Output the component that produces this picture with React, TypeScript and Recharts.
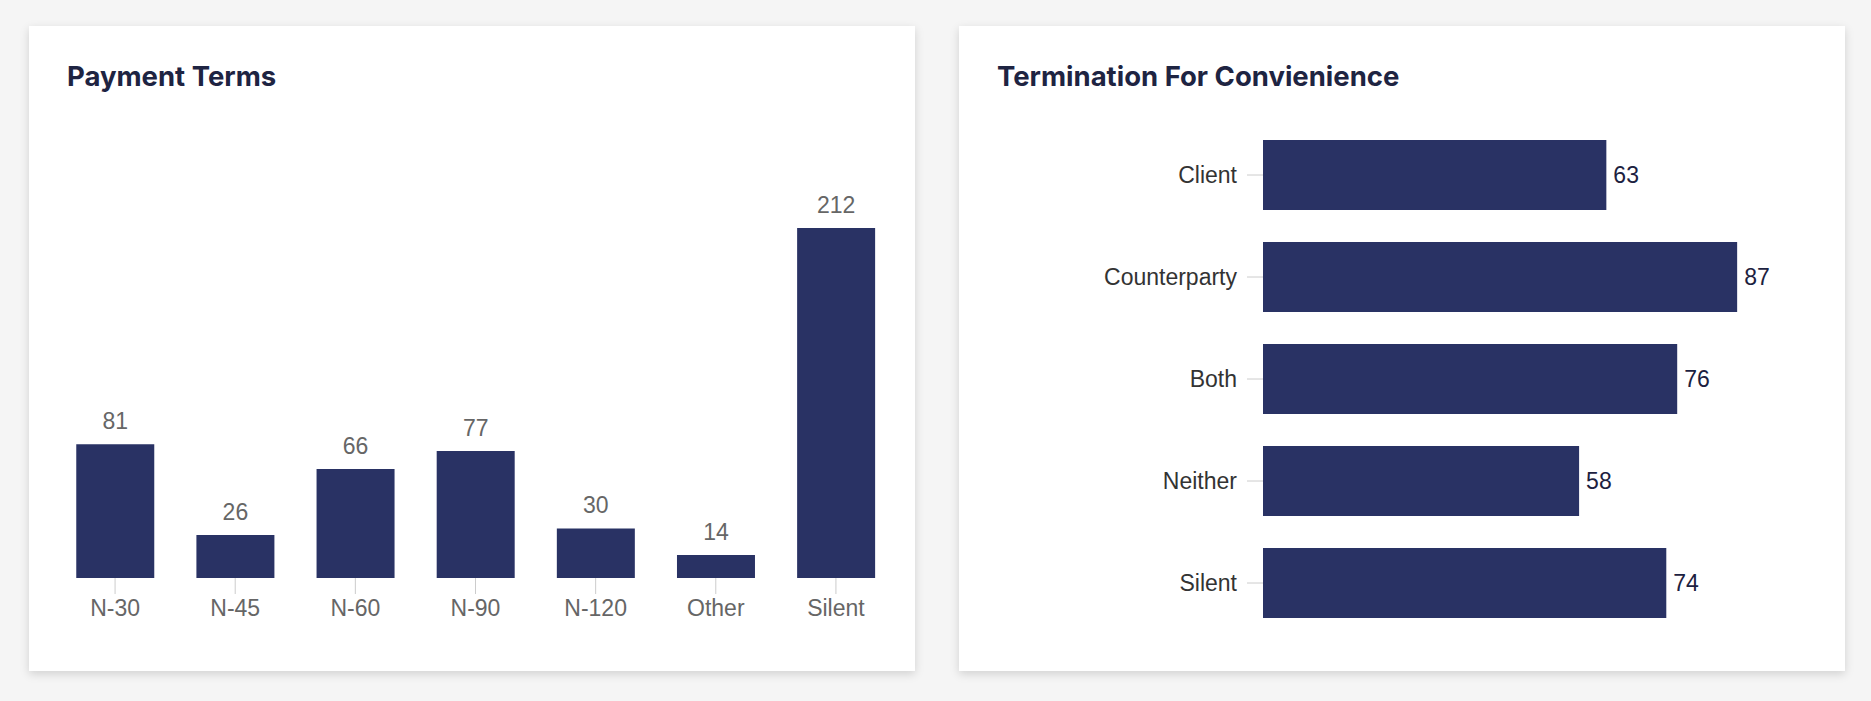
import React from "react";
import { BarChart, Bar, XAxis, YAxis, LabelList } from "recharts";

const paymentCategories = ["N-30", "N-45", "N-60", "N-90", "N-120", "Other", "Silent"];
const paymentValues = [81, 26, 66, 77, 30, 14, 212];

const terminationCategories = ["Client", "Counterparty", "Both", "Neither", "Silent"];
const terminationValues = [63, 87, 76, 58, 74];

const paymentData = paymentCategories.map((name, i) => ({ name, value: paymentValues[i] }));
const terminationData = terminationCategories.map((name, i) => ({ name, value: terminationValues[i] }));

const BAR = "#293264";
const FONT = "'Liberation Sans', Arial, Helvetica, sans-serif";

const cardStyle: React.CSSProperties = {
  position: "absolute",
  top: 26,
  width: 886,
  height: 645,
  background: "#ffffff",
  boxShadow: "0 3px 9px rgba(0,0,0,0.15)",
};

const titleStyle: React.CSSProperties = {
  position: "absolute",
  left: 38,
  top: 37,
  fontFamily: "Inter, 'Noto Sans', sans-serif",
  fontWeight: 700,
  fontSize: 27.5,
  lineHeight: "27px",
  letterSpacing: 0,
  color: "#1e2442",
  whiteSpace: "nowrap",
};

export default function App() {
  return (
    <div
      style={{
        position: "fixed",
        left: 0,
        top: 0,
        width: 1871,
        height: 701,
        background: "#f5f5f5",
        overflow: "hidden",
      }}
    >
      <div style={{ ...cardStyle, left: 29 }}>
        <div style={titleStyle}>Payment Terms</div>
        <div style={{ position: "absolute", left: 0, top: 0 }}>
          <BarChart
            width={886}
            height={645}
            data={paymentData}
            margin={{ top: 202, right: 19, bottom: 33, left: 26 }}
            barCategoryGap="17.7%"
          >
            <XAxis
              dataKey="name"
              axisLine={false}
              tickLine={{ stroke: "#cccccc" }}
              tickSize={16}
              tickMargin={6}
              height={60}
              interval={0}
              tick={{ fill: "#666666", fontSize: 23, fontFamily: FONT }}
            />
            <YAxis hide domain={[0, "dataMax"]} />
            <Bar dataKey="value" fill={BAR} isAnimationActive={false}>
              <LabelList
                dataKey="value"
                position="top"
                offset={15}
                fill="#666666"
                style={{ fontSize: 23, fontFamily: FONT }}
              />
            </Bar>
          </BarChart>
        </div>
      </div>

      <div style={{ ...cardStyle, left: 959 }}>
        <div style={titleStyle}>Termination For Convienience</div>
        <div style={{ position: "absolute", left: 0, top: 0 }}>
          <BarChart
            width={886}
            height={645}
            data={terminationData}
            layout="vertical"
            margin={{ top: 98, right: 37, bottom: 37, left: 0 }}
            barCategoryGap="15.8%"
          >
            <XAxis type="number" hide domain={[0, 100]} />
            <YAxis
              type="category"
              dataKey="name"
              width={304}
              axisLine={false}
              tickLine={{ stroke: "#cccccc" }}
              tickSize={16}
              tickMargin={10}
              interval={0}
              tick={{ fill: "#333333", fontSize: 23, fontFamily: FONT }}
            />
            <Bar dataKey="value" fill={BAR} isAnimationActive={false}>
              <LabelList
                dataKey="value"
                position="right"
                offset={7}
                fill="#1c2140"
                style={{ fontSize: 23, fontFamily: FONT }}
              />
            </Bar>
          </BarChart>
        </div>
      </div>
    </div>
  );
}
